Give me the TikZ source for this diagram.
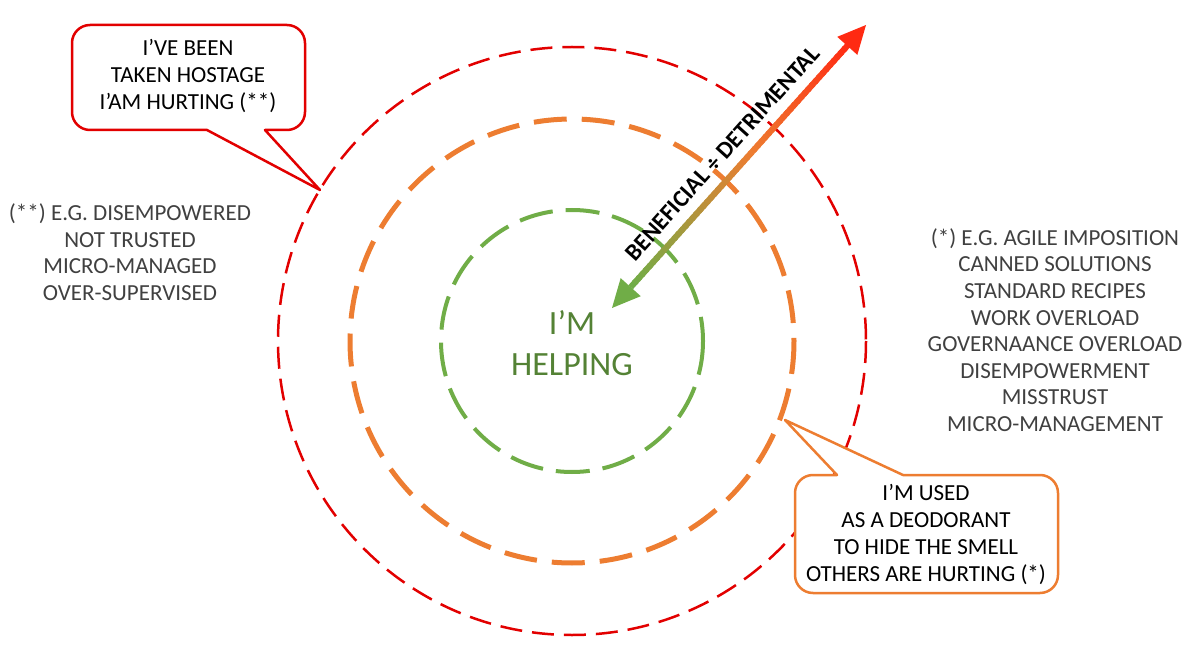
\documentclass[tikz,border=0pt]{standalone}
\usepackage{fontspec}
\setmainfont{Carlito}
\usetikzlibrary{calc}
\definecolor{cred}{HTML}{E20000}
\definecolor{corange}{HTML}{ED7D31}
\definecolor{cgreen}{HTML}{70AD47}
\definecolor{cdkgreen}{HTML}{548235}
\definecolor{cgray}{HTML}{404040}
\definecolor{ared}{HTML}{FF2A12}
\begin{document}
\begin{tikzpicture}[x=1pt,y=-1pt,
  redring/.style={draw=cred,line width=2.5pt,dash pattern=on 22pt off 10pt},
  orangering/.style={draw=corange,line width=5pt,dash pattern=on 33pt off 15pt},
  greenring/.style={draw=cgreen,line width=4pt,dash pattern=on 34pt off 13pt},
  listtxt/.style={align=center,text=cgray,font=\fontsize{23}{26.6}\selectfont,inner sep=0pt},
  calltxt/.style={align=center,text=black,font=\fontsize{23}{27}\selectfont,inner sep=0pt},
  callred/.style={draw=cred,line width=2.5pt,fill=white,line join=round},
  callorange/.style={draw=corange,line width=2.5pt,fill=white,line join=round},
  helptxt/.style={align=center,text=cdkgreen,font=\fontsize{34}{41}\selectfont,inner sep=0pt},
  axistxt/.style={font=\fontsize{24}{28}\selectfont\bfseries,text=black,inner sep=0pt}
]
\useasboundingbox (0,0) rectangle (1200,655);
\coordinate (ctr) at (572,341);
% rings
\draw[redring] (ctr) circle[radius=294];
\draw[orangering] (ctr) circle[radius=222];
\draw[greenring] (ctr) circle[radius=131];
% centre label
\node[helptxt] (help) at (572,343) {I’M\\HELPING};
% gradient arrow
\coordinate (g) at (612,308);
\coordinate (r) at (866,25);
\coordinate (gb) at ($(g)!28pt!(r)$);
\coordinate (rb) at ($(r)!28pt!(g)$);
\foreach \i in {0,...,59}{
  \pgfmathsetmacro{\t}{\i/60}
  \pgfmathparse{\t<0.55 ? 1 : 0}
  \ifnum\pgfmathresult=1
    \pgfmathsetmacro{\p}{\t/0.55*100}
    \colorlet{segc}{corange!\p!cgreen}
  \else
    \pgfmathsetmacro{\p}{(\t-0.55)/0.45*100}
    \colorlet{segc}{ared!\p!corange}
  \fi
  \draw[segc,line width=6pt] ($(gb)!\i/60!(rb)$) -- ($(gb)!{(\i+1.5)/60}!(rb)$);
}
\fill[cgreen] (g) -- ($(gb)!13.5pt!90:(g)$) -- ($(gb)!13.5pt!-90:(g)$) -- cycle;
\fill[ared] (r) -- ($(rb)!13.5pt!90:(r)$) -- ($(rb)!13.5pt!-90:(r)$) -- cycle;
\coordinate (axmid) at ($(g)!189pt!(r)$);
\node[axistxt,rotate=48.1,anchor=south] (axis) at ($(axmid)!13pt!90:(r)$) {BENEFICIAL ÷ DETRIMENTAL};
% side lists
\node[listtxt] (leftlist) at (130,252) {(**) E.G. DISEMPOWERED\\NOT TRUSTED\\MICRO-MANAGED\\OVER-SUPERVISED};
\node[listtxt] (rightlist) at (1055,330) {(*) E.G. AGILE IMPOSITION\\CANNED SOLUTIONS\\STANDARD RECIPES\\WORK OVERLOAD\\GOVERNAANCE OVERLOAD\\DISEMPOWERMENT\\MISSTRUST\\MICRO-MANAGEMENT};
% callout 1
\draw[callred,rounded corners=18pt] (150,25) -- (305,25) -- (305,130) [sharp corners] -- (265,130) -- (320,190) -- (207,130) [rounded corners=18pt] -- (72,130) -- (72,25) -- cycle;
\node[calltxt] (c1) at (188,76) {I’VE BEEN\\TAKEN HOSTAGE\\I’AM HURTING (**)};
% callout 2
\draw[callorange,rounded corners=18pt] (950,475) -- (1058,475) -- (1058,593) -- (795,593) -- (795,475) [sharp corners] -- (837,475) -- (785,420) -- (903,475) [rounded corners=18pt] -- cycle;
\node[calltxt] (c2) at (926,534) {I’M USED\\AS A DEODORANT\\TO HIDE THE SMELL\\OTHERS ARE HURTING (*)};
\end{tikzpicture}
\end{document}
